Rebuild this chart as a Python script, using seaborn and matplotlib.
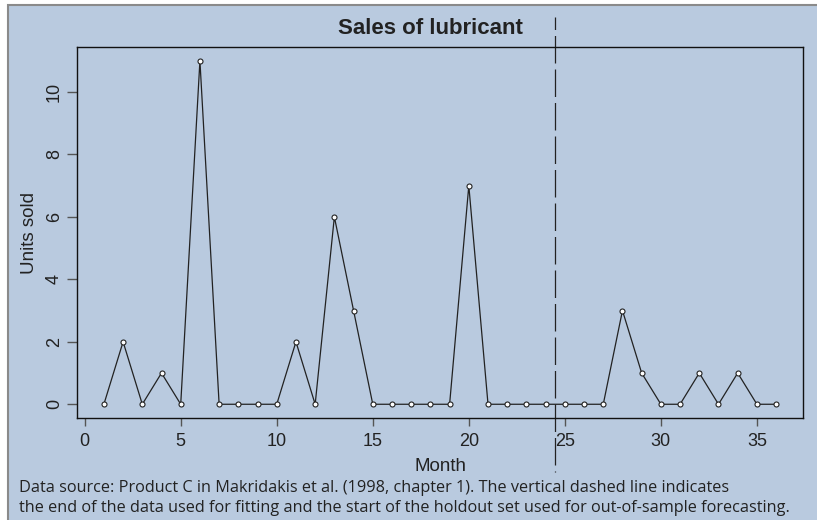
import matplotlib
matplotlib.use("Agg")
import matplotlib.pyplot as plt
import matplotlib.patches as mpatches
import matplotlib.transforms as mtransforms
import seaborn as sns
import pandas as pd

months = list(range(1, 37))
units = [0, 2, 0, 1, 0, 11, 0, 0, 0, 0, 2, 0, 6, 3, 0, 0, 0, 0, 0, 7,
         0, 0, 0, 0, 0, 0, 0, 3, 1, 0, 0, 1, 0, 1, 0, 0]
holdout_start = 24.5
xticks = [0, 5, 10, 15, 20, 25, 30, 35]
yticks = [0, 2, 4, 6, 8, 10]
title = "Sales of lubricant"
caption_lines = [
    "Data source: Product C in Makridakis et al. (1998, chapter 1). The vertical dashed line indicates",
    "the end of the data used for fitting and the start of the holdout set used for out-of-sample forecasting.",
]

sns.set_style("white")
plt.rcParams['font.family'] = ['Liberation Sans', 'DejaVu Sans']

BG = "#b9cadf"
INK = "#222222"
W, H = 817, 520
fig = plt.figure(figsize=(W / 100, H / 100), dpi=100, facecolor="white")
# panel background with grey frame on left/top
fig.patches.append(mpatches.Rectangle((8 / W, -0.05), 1.1, (H - 5) / H + 0.05,
                                      transform=fig.transFigure, facecolor=BG,
                                      edgecolor="#8a8a8a", linewidth=1.5, zorder=-10))

ax = fig.add_axes([77 / W, (H - 418) / H, (803 - 77) / W, (418 - 47) / H])
ax.set_facecolor("none")

df = pd.DataFrame({"Month": months, "Units sold": units})
sns.lineplot(data=df, x="Month", y="Units sold", ax=ax, color=INK, linewidth=0.9,
             marker="o", markersize=3.6, markerfacecolor="white",
             markeredgecolor=INK, markeredgewidth=0.8)

ax.set_xlim(-0.4, 37.4)
ax.set_ylim(-0.44, 11.44)
ax.set_xticks(xticks)
ax.set_yticks(yticks)
ax.set_yticklabels([str(v) for v in yticks], rotation=90, va="center")
for s in ax.spines.values():
    s.set_visible(True)
    s.set_color("#111111")
    s.set_linewidth(1.0)
ax.tick_params(axis="both", direction="out", width=1, color="#555555",
               labelsize=13, labelcolor=INK, bottom=True, left=True)
ax.tick_params(axis="x", length=5.5, pad=5)
ax.tick_params(axis="y", length=7.2, pad=3)
ax.set_xlabel("Month", fontsize=13.5, color=INK, labelpad=6)
ax.set_ylabel("Units sold", fontsize=13.5, color=INK, labelpad=6)

fig.text(430 / W, (H - 28) / H, title, fontsize=16, fontweight="bold", color=INK,
         ha="center", va="center")

trans = mtransforms.blended_transform_factory(ax.transData, fig.transFigure)
ax.plot([holdout_start, holdout_start], [(H - 17) / H, (H - 472) / H], transform=trans,
        clip_on=False, color=INK, linewidth=0.9, linestyle=(12, (22, 4.8)))

for i, line in enumerate(caption_lines):
    fig.text(19 / W, (H - 488 - 20 * i) / H, line, fontsize=11.7, color=INK,
             family=["Open Sans", "DejaVu Sans"], ha="left", va="center")

fig.savefig("out.png", dpi=100, facecolor=fig.get_facecolor())
